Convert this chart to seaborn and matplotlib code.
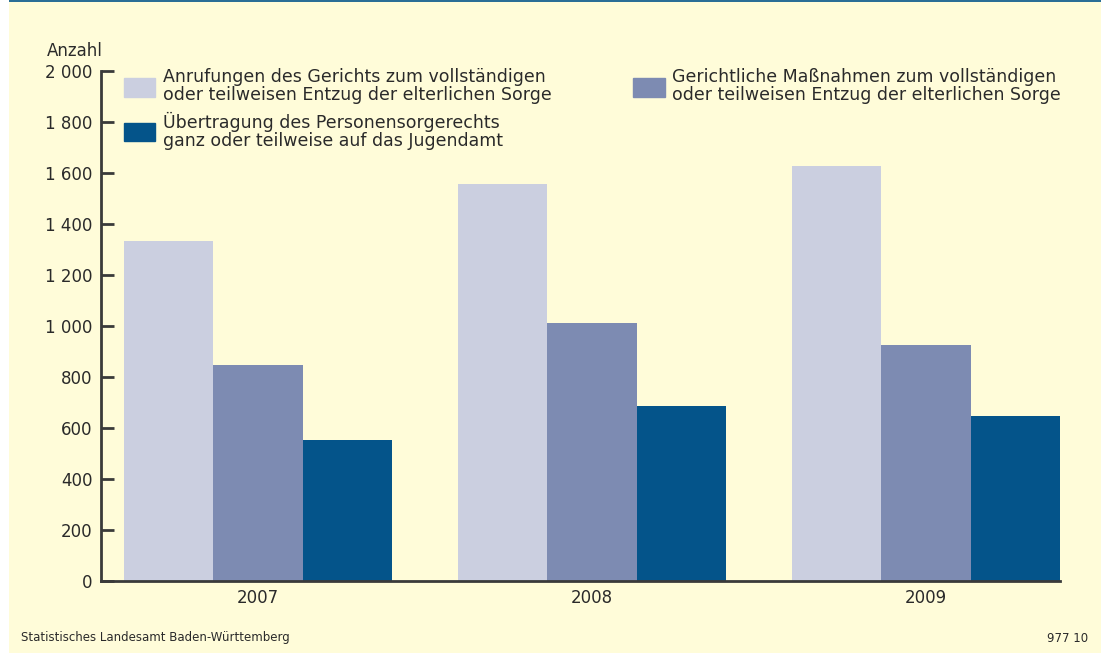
import matplotlib
matplotlib.use('Agg')
import matplotlib.pyplot as plt
import matplotlib.patches as mpatches
import seaborn as sns
import pandas as pnd

# ----------------------
years   = ['2007', '2008', '2009']
anrufe  = [1333, 1557, 1627]
massn   = [847, 1012, 925]
uebertr = [553, 686, 647]

lab_anr = 'Anrufungen des Gerichts zum vollständigen\noder teilweisen Entzug der elterlichen Sorge'
lab_mas = 'Gerichtliche Maßnahmen zum vollständigen\noder teilweisen Entzug der elterlichen Sorge'
lab_ueb = 'Übertragung des Personensorgerechts\nganz oder teilweise auf das Jugendamt'

col_anr = '#CBCFE0'
col_mas = '#7D8BB2'
col_ueb = '#04548A'
bg_col  = '#FFFCD9'
txt_col = '#2a2a2a'

y_ticks  = [0, 200, 400, 600, 800, 1000, 1200, 1400, 1600, 1800, 2000]
y_labels = ['0', '200', '400', '600', '800', '1 000', '1 200', '1 400', '1 600', '1 800', '2 000']
# ----------------------
sns.set_style('ticks')
plt.rcParams['font.family'] = ['DejaVu Sans']

df = pnd.DataFrame({
    'Jahr'  : years * 3,
    'Anzahl': anrufe + massn + uebertr,
    'Art'   : [lab_anr] * 3 + [lab_mas] * 3 + [lab_ueb] * 3,
})

fig = plt.figure(figsize=(11.01, 6.53), dpi=100)
fig.patch.set_facecolor('white')
fig.add_artist(mpatches.Rectangle((9 / 1101, 0), 1 - 9 / 1101, 1, transform=fig.transFigure,
                                  facecolor=bg_col, edgecolor='none', zorder=-10))
fig.add_artist(mpatches.Rectangle((9 / 1101, 1 - 2 / 653), 1 - 9 / 1101, 2 / 653, transform=fig.transFigure,
                                  facecolor='#2a6e96', edgecolor='none', zorder=-9))

ax = fig.add_axes([101 / 1101, (653 - 581) / 653, (1060 - 101) / 1101, (581 - 71) / 653])
ax.set_facecolor('none')

sns.barplot(data=df, x='Jahr', y='Anzahl', hue='Art', ax=ax,
            palette=[col_anr, col_mas, col_ueb], saturation=1, width=0.802, gap=0,
            linewidth=0, legend=False)

ax.set_xlim(-0.47, 2.401)
ax.set_ylim(0, 2000)
ax.set_yticks(y_ticks)
ax.set_yticklabels(y_labels)
ax.set_xlabel('')
ax.set_ylabel('')

for side in ['top', 'right']:
    ax.spines[side].set_visible(False)
for side in ['left', 'bottom']:
    ax.spines[side].set_linewidth(2)
    ax.spines[side].set_color('#3a3a3a')

ax.tick_params(axis='y', direction='in', length=9, width=2, color='#3a3a3a',
               labelsize=12, labelcolor=txt_col, pad=6)
ax.tick_params(axis='x', length=0, labelsize=12, labelcolor=txt_col, pad=6)

fig.text(47 / 1101, 1 - 42 / 653, 'Anzahl', fontsize=12, color=txt_col, va='top', ha='left')

handles = [mpatches.Patch(color=col_anr, label=lab_anr),
           mpatches.Patch(color=col_ueb, label=lab_ueb),
           mpatches.Patch(color=col_mas, label=lab_mas)]
leg = ax.legend(handles=handles, ncol=2, loc='upper left', bbox_to_anchor=(124 / 1101, 1 - 68 / 653),
                bbox_transform=fig.transFigure, frameon=False, fontsize=12.5, labelcolor=txt_col,
                handlelength=1.8, handleheight=1.3, handletextpad=0.45, labelspacing=0.45,
                columnspacing=4.7, borderpad=0, borderaxespad=0)
for t in leg.get_texts():
    t.set_linespacing(1.0)

fig.text(21 / 1101, 1 - 638 / 653, 'Statistisches Landesamt Baden-Württemberg',
         fontsize=8.5, color=txt_col, va='center', ha='left')
fig.text(1088 / 1101, 1 - 638 / 653, '977 10', fontsize=8.5, color=txt_col, va='center', ha='right')

fig.savefig('out.png', dpi=100, facecolor=fig.get_facecolor())
